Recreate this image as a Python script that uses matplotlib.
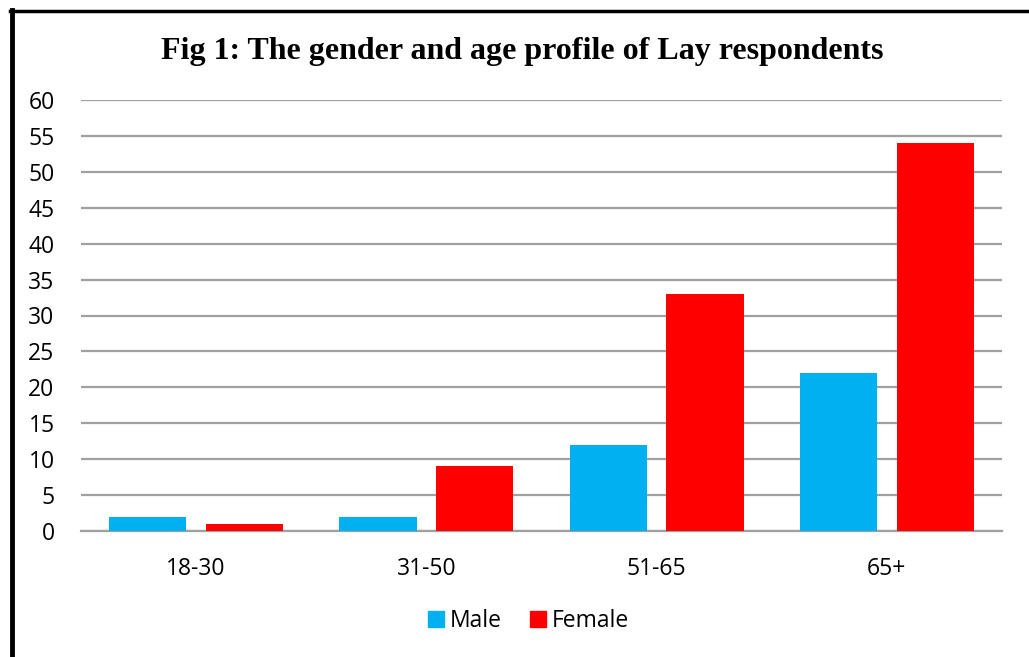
import matplotlib
matplotlib.use("Agg")
import matplotlib.pyplot as plt
import numpy as np
from matplotlib.lines import Line2D

categories = ["18-30", "31-50", "51-65", "65+"]
male = [2, 2, 12, 22]
female = [1, 9, 33, 54]
yticks = list(range(0, 61, 5))
title = "Fig 1: The gender and age profile of Lay respondents"

fig = plt.figure(figsize=(10.29, 6.57), dpi=100)
ax = fig.add_axes([81/1029, 1-531/657, (1002-81)/1029, (531-100)/657])

x = np.arange(len(categories))
w = 0.335
ax.bar(x - 0.21, male, width=w, color="#00B0F0", label="Male", zorder=3)
ax.bar(x + 0.21, female, width=w, color="#FF0000", label="Female", zorder=3)

ax.set_xlim(-0.5, len(categories) - 0.5)
ax.set_ylim(0, 60)
ax.set_yticks(yticks)
ax.set_xticks(x)
ax.set_xticklabels(categories)
ax.yaxis.grid(True, color="#a0a0a0", linewidth=1.6, zorder=0)
ax.set_axisbelow(True)
for s in ["top", "right", "left"]:
    ax.spines[s].set_visible(False)
ax.spines["bottom"].set_color("#a0a0a0")
ax.spines["bottom"].set_linewidth(1.6)
ax.tick_params(axis="both", length=0, labelsize=16.5, colors="black")
ax.tick_params(axis="y", pad=19)
ax.tick_params(axis="x", pad=18.5)
for lbl in ax.get_xticklabels() + ax.get_yticklabels():
    lbl.set_fontfamily("Open Sans")

fig.text(522/1029, 1-52/657, title, ha="center", va="center",
         fontsize=23, fontweight="bold", fontfamily="Liberation Serif")

handles = [Line2D([], [], marker="s", linestyle="none", markersize=11, color="#00B0F0"),
           Line2D([], [], marker="s", linestyle="none", markersize=11, color="#FF0000")]
fig.legend(handles, ["Male", "Female"], loc="center", bbox_to_anchor=(527/1029, 1-621/657),
           ncol=2, frameon=False, prop={"family": "Open Sans", "size": 16.5},
           handletextpad=0.1, columnspacing=1.1, handlelength=1.0)

# frame border on top and left
fig.add_artist(Line2D([12/1029, 12/1029], [0, 1-10/657], transform=fig.transFigure,
                      color="black", linewidth=3.5))
fig.add_artist(Line2D([10/1029, 1], [1-11/657, 1-11/657], transform=fig.transFigure,
                      color="black", linewidth=2.5))

fig.savefig("out.png", dpi=100)
